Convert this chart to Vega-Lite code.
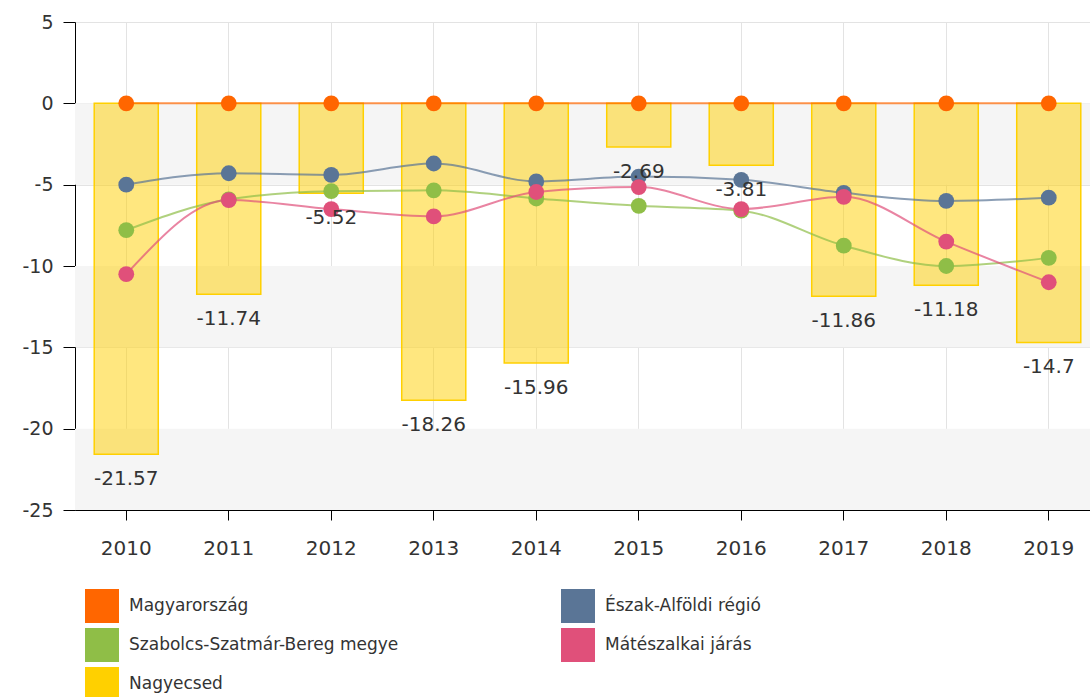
{
  "$schema": "https://vega.github.io/schema/vega-lite/v6.json",
  "width": 1015,
  "height": 488,
  "autosize": {"type": "none"},
  "padding": {"left": 75, "top": 22, "right": 0, "bottom": 187},
  "background": "white",
  "config": {
    "view": {"stroke": null},
    "font": "DejaVu Sans",
    "axis": {"zindex": 1, "title": null, "domainColor": "#000000", "tickColor": "#000000", "labelColor": "#333333", "gridColor": "#e3e3e3", "gridWidth": 1},
    "axisY": {"tickSize": 12, "labelPadding": 10, "labelFontSize": 19},
    "axisX": {"tickSize": 10, "labelPadding": 18, "labelFontSize": 20, "labelAngle": 0, "grid": true},
    "legend": {"padding": 0}
  },
  "datasets": {
    "bands": [
      {"lo": 0, "hi": -5},
      {"lo": -10, "hi": -15},
      {"lo": -20, "hi": -25}
    ],
    "series": [
      {"year": "2010", "series": "Magyarország", "value": 0},
      {"year": "2011", "series": "Magyarország", "value": 0},
      {"year": "2012", "series": "Magyarország", "value": 0},
      {"year": "2013", "series": "Magyarország", "value": 0},
      {"year": "2014", "series": "Magyarország", "value": 0},
      {"year": "2015", "series": "Magyarország", "value": 0},
      {"year": "2016", "series": "Magyarország", "value": 0},
      {"year": "2017", "series": "Magyarország", "value": 0},
      {"year": "2018", "series": "Magyarország", "value": 0},
      {"year": "2019", "series": "Magyarország", "value": 0},
      {"year": "2010", "series": "Észak-Alföldi régió", "value": -5.0},
      {"year": "2011", "series": "Észak-Alföldi régió", "value": -4.3},
      {"year": "2012", "series": "Észak-Alföldi régió", "value": -4.4},
      {"year": "2013", "series": "Észak-Alföldi régió", "value": -3.7},
      {"year": "2014", "series": "Észak-Alföldi régió", "value": -4.8},
      {"year": "2015", "series": "Észak-Alföldi régió", "value": -4.5},
      {"year": "2016", "series": "Észak-Alföldi régió", "value": -4.7},
      {"year": "2017", "series": "Észak-Alföldi régió", "value": -5.5},
      {"year": "2018", "series": "Észak-Alföldi régió", "value": -6.0},
      {"year": "2019", "series": "Észak-Alföldi régió", "value": -5.8},
      {"year": "2010", "series": "Szabolcs-Szatmár-Bereg megye", "value": -7.8},
      {"year": "2011", "series": "Szabolcs-Szatmár-Bereg megye", "value": -5.9},
      {"year": "2012", "series": "Szabolcs-Szatmár-Bereg megye", "value": -5.4},
      {"year": "2013", "series": "Szabolcs-Szatmár-Bereg megye", "value": -5.35},
      {"year": "2014", "series": "Szabolcs-Szatmár-Bereg megye", "value": -5.85},
      {"year": "2015", "series": "Szabolcs-Szatmár-Bereg megye", "value": -6.3},
      {"year": "2016", "series": "Szabolcs-Szatmár-Bereg megye", "value": -6.6},
      {"year": "2017", "series": "Szabolcs-Szatmár-Bereg megye", "value": -8.75},
      {"year": "2018", "series": "Szabolcs-Szatmár-Bereg megye", "value": -10.0},
      {"year": "2019", "series": "Szabolcs-Szatmár-Bereg megye", "value": -9.5},
      {"year": "2010", "series": "Mátészalkai járás", "value": -10.5},
      {"year": "2011", "series": "Mátészalkai járás", "value": -5.95},
      {"year": "2012", "series": "Mátészalkai járás", "value": -6.5},
      {"year": "2013", "series": "Mátészalkai járás", "value": -6.95},
      {"year": "2014", "series": "Mátészalkai járás", "value": -5.45},
      {"year": "2015", "series": "Mátészalkai járás", "value": -5.15},
      {"year": "2016", "series": "Mátészalkai járás", "value": -6.5},
      {"year": "2017", "series": "Mátészalkai járás", "value": -5.75},
      {"year": "2018", "series": "Mátészalkai járás", "value": -8.5},
      {"year": "2019", "series": "Mátészalkai járás", "value": -11.0},
      {"year": "2010", "series": "Nagyecsed", "value": -21.57},
      {"year": "2011", "series": "Nagyecsed", "value": -11.74},
      {"year": "2012", "series": "Nagyecsed", "value": -5.52},
      {"year": "2013", "series": "Nagyecsed", "value": -18.26},
      {"year": "2014", "series": "Nagyecsed", "value": -15.96},
      {"year": "2015", "series": "Nagyecsed", "value": -2.69},
      {"year": "2016", "series": "Nagyecsed", "value": -3.81},
      {"year": "2017", "series": "Nagyecsed", "value": -11.86},
      {"year": "2018", "series": "Nagyecsed", "value": -11.18},
      {"year": "2019", "series": "Nagyecsed", "value": -14.7}
    ]
  },
  "layer": [
    {
      "data": {"name": "bands"},
      "mark": {"type": "rect", "color": "#f5f5f5"},
      "encoding": {
        "y": {"field": "lo", "type": "quantitative", "scale": {"domain": [-25, 5], "nice": false, "zero": false}, "axis": {"values": [-25, -20, -15, -10, -5, 0, 5], "labelExpr": "toString(datum.value)", "title": null}},
        "y2": {"field": "hi"}
      }
    },
    {
      "data": {"name": "series"},
      "transform": [{"filter": "datum.series === 'Nagyecsed'"}],
      "mark": {"type": "bar", "fillOpacity": 0.5, "stroke": "#ffd000", "strokeWidth": 1.5},
      "encoding": {
        "x": {"field": "year", "type": "ordinal", "scale": {"range": [0, 1025], "paddingInner": 0.375, "paddingOuter": 0.1875}, "axis": {"title": null, "grid": true}},
        "y": {"field": "value", "type": "quantitative"},
        "color": {
          "field": "series", "type": "nominal",
          "scale": {"domain": ["Magyarország", "Szabolcs-Szatmár-Bereg megye", "Nagyecsed", "Észak-Alföldi régió", "Mátészalkai járás"], "range": ["#ff6600", "#8fbe47", "#ffd000", "#5a7596", "#e0507a"]},
          "legend": {
            "title": null, "orient": "none", "legendX": 10, "legendY": 567, "columns": 2,
            "symbolType": "square", "symbolSize": 1156, "rowPadding": 5, "columnPadding": 162, "labelOffset": 10,
            "labelFontSize": 17, "labelColor": "#333333", "labelLimit": 400,
            "symbolStrokeWidth": 0, "symbolOpacity": 1,
            "encode": {"symbols": {"update": {"fill": {"scale": "color", "field": "value"}, "fillOpacity": {"value": 1}, "strokeWidth": {"value": 0}, "opacity": {"value": 1}}}}
          }
        }
      }
    },
    {
      "data": {"name": "series"},
      "transform": [{"filter": "datum.series !== 'Nagyecsed'"}],
      "mark": {"type": "line", "interpolate": "monotone", "strokeWidth": 2, "opacity": 0.7},
      "encoding": {
        "x": {"field": "year", "type": "ordinal"},
        "y": {"field": "value", "type": "quantitative"},
        "color": {"field": "series", "type": "nominal"}
      }
    },
    {
      "data": {"name": "series"},
      "transform": [{"filter": "datum.series !== 'Nagyecsed'"}],
      "mark": {"type": "point", "filled": true, "size": 250, "opacity": 1},
      "encoding": {
        "x": {"field": "year", "type": "ordinal"},
        "y": {"field": "value", "type": "quantitative"},
        "color": {"field": "series", "type": "nominal"}
      }
    },
    {
      "data": {"name": "series"},
      "transform": [{"filter": "datum.series === 'Nagyecsed'"}],
      "mark": {"type": "text", "baseline": "middle", "dy": 25, "fontSize": 20, "color": "#333333"},
      "encoding": {
        "x": {"field": "year", "type": "ordinal"},
        "y": {"field": "value", "type": "quantitative"},
        "text": {"field": "value", "type": "nominal"}
      }
    }
  ]
}
